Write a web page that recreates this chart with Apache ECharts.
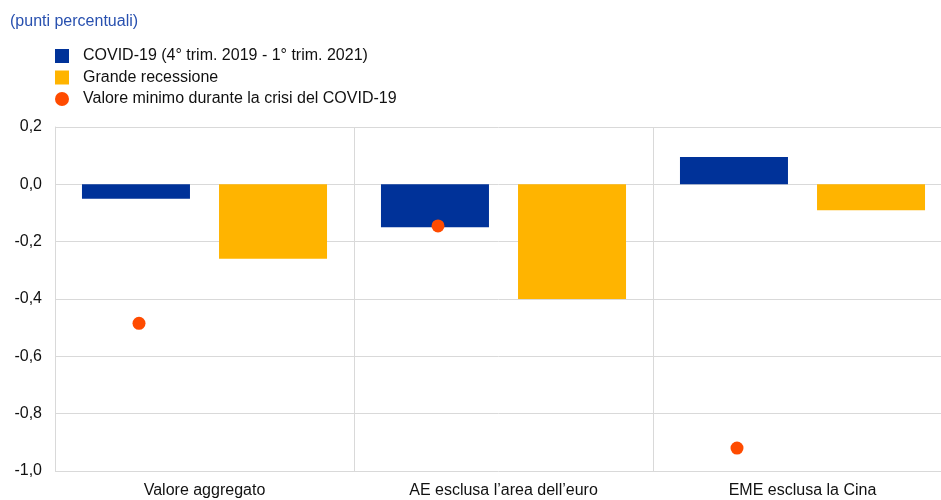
<!DOCTYPE html>
<html>
<head>
<meta charset="utf-8">
<script src="https://cdn.jsdelivr.net/npm/echarts@6/dist/echarts.min.js"></script>
<style>
  html, body { margin: 0; padding: 0; background: #fff; }
  #chart { width: 941px; height: 500px; }
</style>
</head>
<body>
<div id="chart"></div>
<script>
// Categories and series values (percentage points)
const categories = ['Valore aggregato', 'AE esclusa l\u2019area dell\u2019euro', 'EME esclusa la Cina'];
const covidValues = [-0.05, -0.15, 0.095];
const recessionValues = [-0.26, -0.40, -0.09];
const covidMinValues = [-0.485, -0.145, -0.92];
const seriesNames = ['COVID-19 (4\u00b0 trim. 2019 - 1\u00b0 trim. 2021)', 'Grande recessione', 'Valore minimo durante la crisi del COVID-19'];
const yTicks = { min: -1.0, max: 0.2, interval: 0.2 };

const BAR_W = 108;
const BAR_GAP_PX = 29;
const FONT = 'Liberation Sans, Arial, sans-serif';

const chart = echarts.init(document.getElementById('chart'), null, { renderer: 'canvas' });

chart.setOption({
  animation: false,
  title: {
    text: '(punti percentuali)',
    left: 5, top: 9,
    textStyle: { fontFamily: FONT, fontSize: 16, fontWeight: 'normal', color: '#2850AF' }
  },
  legend: {
    orient: 'vertical',
    left: 50, top: 43,
    itemWidth: 14, itemHeight: 14, itemGap: 5.5,
    textStyle: { fontFamily: FONT, fontSize: 16, color: '#111', padding: [0, 0, 0, 9] },
    data: [
      { name: seriesNames[0], icon: 'rect' },
      { name: seriesNames[1], icon: 'rect' },
      { name: seriesNames[2], icon: 'circle' }
    ]
  },
  // plot runs slightly past the right edge of the canvas
  grid: { left: 55, width: 897, top: 127, bottom: 29, containLabel: false, outerBoundsMode: 'none' },
  xAxis: {
    type: 'category',
    data: categories,
    axisLine: { show: false },
    axisTick: { show: false },
    axisLabel: { fontFamily: FONT, fontSize: 16, color: '#111', margin: 12 },
    splitLine: { show: true, lineStyle: { color: '#d9d9d9', width: 1 } }
  },
  yAxis: {
    type: 'value',
    min: yTicks.min, max: yTicks.max, interval: yTicks.interval,
    axisLine: { show: true, lineStyle: { color: '#d9d9d9' } },
    axisTick: { show: false },
    axisLabel: {
      fontFamily: FONT, fontSize: 16, color: '#111', margin: 13,
      formatter: v => v.toFixed(1).replace('.', ',')
    },
    splitLine: { lineStyle: { color: '#d9d9d9', width: 1 } }
  },
  series: [
    {
      name: seriesNames[0], type: 'bar', data: covidValues,
      barWidth: BAR_W, barGap: (BAR_GAP_PX / BAR_W * 100).toFixed(1) + '%',
      itemStyle: { color: '#003299' }
    },
    {
      name: seriesNames[1], type: 'bar', data: recessionValues,
      barWidth: BAR_W,
      itemStyle: { color: '#FFB400' }
    },
    {
      name: seriesNames[2], type: 'scatter', data: covidMinValues,
      symbol: 'circle', symbolSize: 13,
      // sits just right of the middle of the COVID-19 bar in each category
      symbolOffset: [-(BAR_W + BAR_GAP_PX) / 2 + 3, 0],
      itemStyle: { color: '#FF4B00', opacity: 1 },
      z: 5
    }
  ]
});
</script>
</body>
</html>
